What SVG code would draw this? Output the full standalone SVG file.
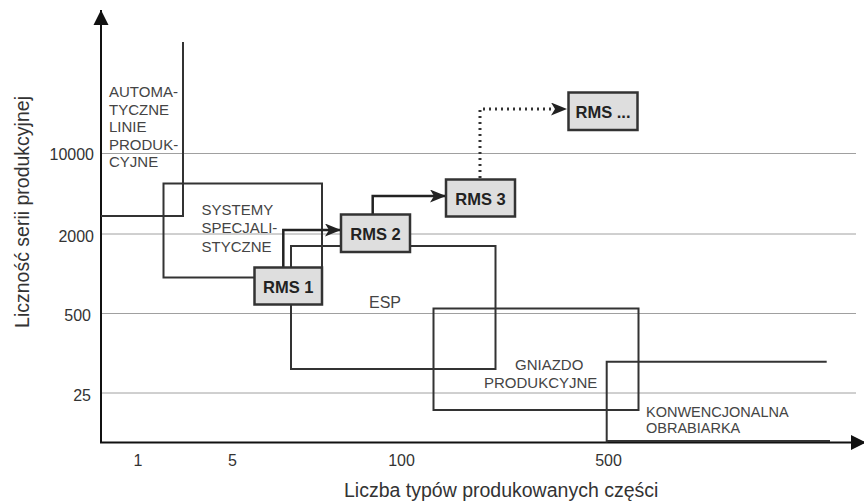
<svg xmlns="http://www.w3.org/2000/svg" width="864" height="502" viewBox="0 0 864 502">
<style>
  .grid { stroke: #a0a0a0; stroke-width: 1; fill: none; }
  .axis { stroke: #111; stroke-width: 2; fill: none; }
  .area { stroke: #333; stroke-width: 2; fill: none; }
  .rms rect { fill: #dedede; stroke: #333; stroke-width: 2.5; }
  .rms text { font-family: "Liberation Sans", Arial, sans-serif; font-weight: bold; font-size: 16.5px; fill: #222; text-anchor: middle; }
  .lbl { font-family: "Liberation Sans", Arial, sans-serif; font-size: 15px; fill: #444; }
  .tick { font-family: "Liberation Sans", Arial, sans-serif; font-size: 16px; fill: #333; }
  .title { font-family: "Liberation Sans", Arial, sans-serif; font-size: 19.5px; fill: #333; }
  .conn { stroke: #222; stroke-width: 2.5; fill: none; }
  .dots { stroke: #333; stroke-width: 3; fill: none; stroke-dasharray: 2 4; }
</style>
<defs>
  <marker id="arr" markerUnits="userSpaceOnUse" markerWidth="17" markerHeight="13" refX="16" refY="6.5" orient="auto">
    <path d="M0,0 L16,6.5 L0,13 L4,6.5 Z" fill="#222"/>
  </marker>
  <marker id="axarr" markerUnits="userSpaceOnUse" markerWidth="16" markerHeight="16" refX="15" refY="8" orient="auto">
    <path d="M0,0.5 L15,8 L0,15.5 Z" fill="#111"/>
  </marker>
</defs>

<g id="grid">
  <line class="grid" x1="101" y1="153.5" x2="856" y2="153.5"/>
  <line class="grid" x1="101" y1="234" x2="856" y2="234"/>
  <line class="grid" x1="101" y1="313.5" x2="856" y2="313.5"/>
  <line class="grid" x1="101" y1="393" x2="856" y2="393"/>
</g>

<g id="axes">
  <line class="axis" x1="101" y1="443" x2="101" y2="10" marker-end="url(#axarr)"/>
  <line class="axis" x1="100" y1="442.5" x2="866" y2="442.5" marker-end="url(#axarr)"/>
  <text class="tick" x="94" y="160" text-anchor="end">10000</text>
  <text class="tick" x="94" y="242" text-anchor="end">2000</text>
  <text class="tick" x="91" y="321" text-anchor="end">500</text>
  <text class="tick" x="91" y="401" text-anchor="end">25</text>
  <text class="tick" x="138" y="466" text-anchor="middle">1</text>
  <text class="tick" x="232.5" y="466" text-anchor="middle">5</text>
  <text class="tick" x="401.5" y="466" text-anchor="middle">100</text>
  <text class="tick" x="608.5" y="466" text-anchor="middle">500</text>
  <text class="title" x="344" y="496.5">Liczba typów produkowanych części</text>
  <text class="title" transform="translate(28.5,212) rotate(-90)" text-anchor="middle">Liczność serii produkcyjnej</text>
</g>

<g id="automatyczne-linie">
  <path class="area" d="M101,216 H183 V42"/>
  <text class="lbl" x="109" y="97">AUTOMA-</text>
  <text class="lbl" x="109" y="114.5">TYCZNE</text>
  <text class="lbl" x="109" y="132">LINIE</text>
  <text class="lbl" x="109" y="149.5">PRODUK-</text>
  <text class="lbl" x="109" y="167">CYJNE</text>
</g>

<g id="systemy-specjalistyczne">
  <rect class="area" x="163.5" y="183.5" width="158.5" height="94"/>
  <text class="lbl" x="201.5" y="215">SYSTEMY</text>
  <text class="lbl" x="201.5" y="233.3">SPECJALI-</text>
  <text class="lbl" x="201.5" y="251.6">STYCZNE</text>
</g>

<g id="esp">
  <rect class="area" x="291" y="246" width="204.5" height="123"/>
  <text class="lbl" x="369" y="307.5" style="font-size:16px">ESP</text>
</g>

<g id="gniazdo-produkcyjne">
  <rect class="area" x="433.5" y="308.5" width="205" height="101.5"/>
  <text class="lbl" x="515" y="370">GNIAZDO</text>
  <text class="lbl" x="484" y="388">PRODUKCYJNE</text>
</g>

<g id="konwencjonalna-obrabiarka">
  <path class="area" d="M606.7,442.5 V361.7 H826.7"/>
  <line class="area" x1="607" y1="441" x2="830" y2="441"/>
  <text class="lbl" x="646" y="416.7" style="font-size:14.5px">KONWENCJONALNA</text>
  <text class="lbl" x="646" y="432.7" style="font-size:14.5px">OBRABIARKA</text>
</g>

<g id="connectors">
  <path class="conn" d="M283.3,267 V230 H341" marker-end="url(#arr)"/>
  <path class="conn" d="M372.7,214 V196 H446" marker-end="url(#arr)"/>
  <path class="dots" d="M480,178 V109 H552"/>
  <path class="conn" d="M552,109 H567" marker-end="url(#arr)" style="stroke:none"/>
</g>

<g id="rms1" class="rms">
  <rect x="254.5" y="267.5" width="67.5" height="37"/>
  <text x="288.3" y="292.5">RMS 1</text>
</g>
<g id="rms2" class="rms">
  <rect x="341" y="214.5" width="69" height="37.5"/>
  <text x="375.5" y="239.5">RMS 2</text>
</g>
<g id="rms3" class="rms">
  <rect x="446" y="179.5" width="69" height="37"/>
  <text x="480.5" y="204.5">RMS 3</text>
</g>
<g id="rms-more" class="rms">
  <rect x="568.5" y="92.5" width="69" height="37.5"/>
  <text x="603" y="117.5">RMS ...</text>
</g>
</svg>
